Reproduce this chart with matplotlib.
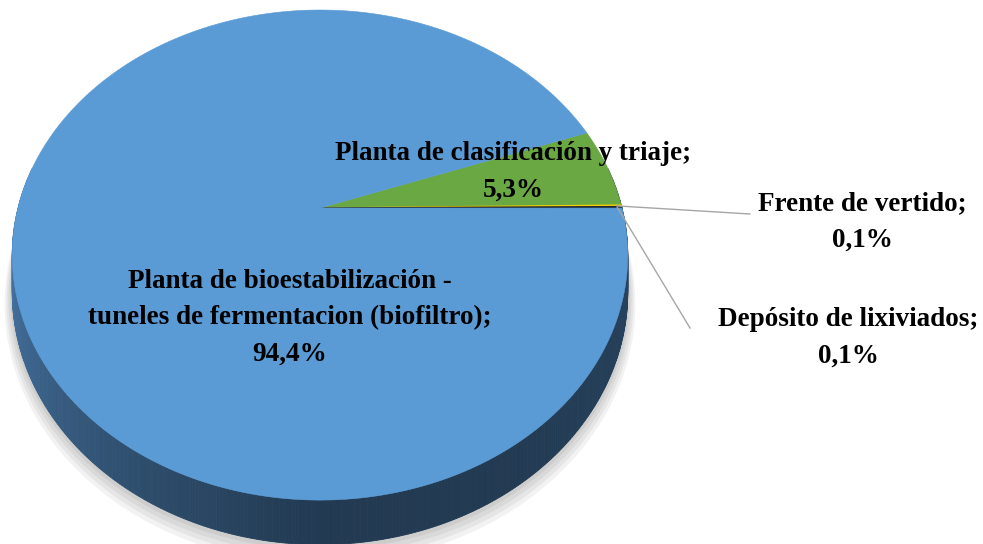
import matplotlib.pyplot as plt
import numpy as np
from matplotlib.patches import Polygon
from matplotlib.colors import to_rgb

# data
labels = ['Planta de clasificación y triaje', 'Frente de vertido',
          'Depósito de lixiviados',
          'Planta de bioestabilización -\ntuneles de fermentacion (biofiltro)']
values = [5.3, 0.1, 0.1, 94.4]
pct_text = ['5,3%', '0,1%', '0,1%', '94,4%']
colors = ['#6aa843', '#f2d000', '#1f2a36', '#5b9bd5']

# 3D pie geometry (pixel coords)
CX, CY = 320, 208
A, B, K, D = 302, 236, 0.192, 36
START = 19.8

def proj(t_deg, r=1.0, depth=0.0):
    t = np.radians(t_deg)
    X, Z = r*np.cos(t), r*np.sin(t)
    w = 1 + K*Z
    return CX + A*X/w, CY - B*Z/w + depth*D/w

fig = plt.figure(figsize=(9.83, 5.44), dpi=100)
ax = fig.add_axes([0, 0, 1, 1])
ax.set_xlim(0, 983)
ax.set_ylim(544, 0)
ax.axis('off')

frac = np.array(values)/np.sum(values)
edges = START - 360*np.concatenate([[0], np.cumsum(frac)])

# soft shadow
for i in range(4):
    tt = np.linspace(175, 365, 200)
    px, py = proj(tt, r=1.0+0.006*(i+1), depth=1.0+0.06*(i+1))
    tx, ty = proj(tt[::-1])
    ax.fill(np.r_[px, tx], np.r_[py, ty], color='#000000', alpha=0.05, lw=0, zorder=1)

# side wall
light = np.array(to_rgb('#4f82b5'))
dark = np.array(to_rgb('#223a52'))
ts = np.linspace(170, 370, 400)
for t0, t1 in zip(ts[:-1], ts[1:]):
    f = np.clip((t0 - 180)/90.0, 0, 1)**0.8
    c = light*(1-f) + dark*f
    if t0 > 300:
        c = dark*(1 - (t0-300)/400) + light*((t0-300)/400)
    x0, y0 = proj(t0)
    x1, y1 = proj(t1)
    x2, y2 = proj(t1, depth=1)
    x3, y3 = proj(t0, depth=1)
    ax.add_patch(Polygon([[x0, y0], [x1, y1], [x2, y2], [x3, y3]],
                         closed=True, fc=c, ec=c, lw=0.6, zorder=2))

# top face wedges
for i in range(len(values)):
    a0, a1 = edges[i], edges[i+1]
    n = max(int(abs(a0 - a1)*2), 3)
    tt = np.linspace(a0, a1, n)
    px, py = proj(tt)
    pts = np.column_stack([np.r_[CX, px], np.r_[CY, py]])
    lw = 1.0 if values[i] < 1 else 0.4
    ax.add_patch(Polygon(pts, closed=True, fc=colors[i], ec=colors[i],
                         lw=lw, zorder=3))

font = dict(family='Liberation Serif', fontweight='bold', fontsize=19.5,
            ha='center', va='center', linespacing=1.6, zorder=5)

ax.text(513, 172, labels[0] + ';\n' + pct_text[0], **font)
ax.text(290, 318, labels[3] + ';\n' + pct_text[3], **font)
ax.text(862, 222, labels[1] + ';\n' + pct_text[1], **font)
ax.text(848, 338, labels[2] + ';\n' + pct_text[2], **font)

# leader lines for small slices
for i, end in [(1, (750, 214)), (2, (690, 328))]:
    mid = (edges[i] + edges[i+1])/2
    sx, sy = proj(mid, r=0.985)
    ax.plot([sx, end[0]], [sy, end[1]], color='#a6a6a6', lw=1.0, zorder=4)

fig.savefig('out.png', dpi=100)
